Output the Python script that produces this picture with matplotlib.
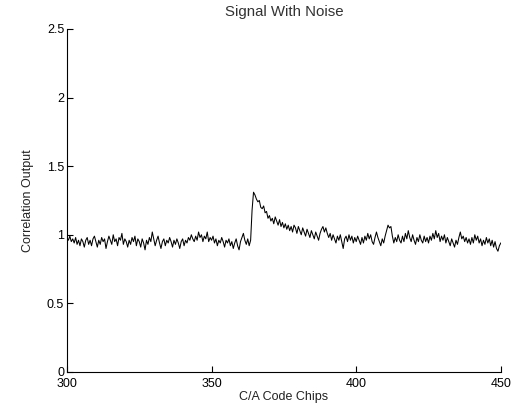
"""
Correlation output of a noisy C/A code signal, redrawn as a MATLAB-style line plot.
"""

import numpy as np
import matplotlib

matplotlib.use("Agg")
import matplotlib.pyplot as plt

# chips run from 300 to 450 in half-chip steps
chip_start = 300.0
chip_step = 0.5

# correlation output, 25 chips per block
corr_300 = [
    0.98, 0.96, 0.99, 0.95, 0.97, 0.94, 0.98, 0.93, 0.96, 0.92,
    0.97, 0.95, 0.91, 0.96, 0.98, 0.93, 0.96, 0.92, 0.97, 0.99,
    0.95, 0.91, 0.96, 0.93, 0.98, 0.95, 0.97, 0.90, 0.95, 0.99,
    0.96, 0.93, 1.00, 0.95, 0.97, 0.92, 0.98, 0.96, 1.01, 0.93,
    0.97, 0.95, 0.91, 0.96, 0.93, 0.98, 0.95, 0.99, 0.92, 0.97,
]
corr_325 = [
    0.95, 0.91, 0.97, 0.94, 0.89, 0.96, 0.93, 0.98, 0.95, 1.02,
    0.97, 0.92, 0.96, 0.99, 0.94, 0.90, 0.95, 0.97, 0.92, 0.96,
    0.94, 0.98, 0.95, 0.91, 0.96, 0.93, 0.97, 0.94, 0.90, 0.95,
    0.97, 0.92, 0.96, 0.94, 0.98, 0.96, 1.00, 0.97, 0.95, 0.99,
    0.96, 1.02, 0.98, 1.00, 0.95, 0.99, 0.97, 1.02, 0.95, 0.98,
]
corr_350 = [
    0.96, 0.99, 0.94, 0.97, 0.92, 0.96, 0.94, 0.98, 0.95, 0.91,
    0.96, 0.94, 0.97, 0.92, 0.95, 0.90, 0.94, 0.97, 0.92, 0.89,
    0.95, 0.98, 1.01, 0.96, 0.93, 0.97, 0.92, 0.96, 1.18, 1.31,
    1.29, 1.26, 1.24, 1.25, 1.20, 1.19, 1.21, 1.16, 1.17, 1.12,
    1.14, 1.10, 1.12, 1.08, 1.13, 1.10, 1.07, 1.11, 1.06, 1.09,
]
corr_375 = [
    1.05, 1.08, 1.04, 1.07, 1.03, 1.06, 1.02, 1.07, 1.05, 1.01,
    1.06, 1.03, 1.00, 1.05, 1.02, 0.99, 1.04, 1.01, 0.98, 1.03,
    1.00, 0.97, 1.02, 0.99, 0.96, 1.01, 1.04, 1.06, 1.02, 1.05,
    1.01, 0.98, 1.01, 0.96, 1.00, 0.97, 0.94, 0.99, 0.96, 1.00,
    0.95, 0.90, 0.97, 0.99, 0.95, 1.00, 0.96, 0.99, 0.94, 0.98,
]
corr_400 = [
    0.95, 0.99, 0.96, 0.93, 0.98, 0.94, 0.99, 0.96, 1.01, 0.97,
    1.00, 0.95, 0.93, 0.98, 1.02, 0.98, 0.95, 0.92, 0.97, 0.94,
    0.99, 1.03, 1.07, 1.05, 1.06, 0.99, 0.94, 0.98, 0.95, 1.00,
    0.96, 0.94, 0.99, 0.95, 1.01, 0.97, 1.03, 0.98, 0.95, 1.00,
    0.96, 0.93, 0.98, 0.95, 1.00, 0.96, 0.94, 0.99, 0.95, 0.98,
]
corr_425 = [
    0.94, 0.99, 0.96, 1.01, 0.97, 1.03, 0.98, 1.01, 0.95, 0.99,
    0.96, 1.00, 0.94, 0.98, 0.95, 0.92, 0.97, 0.94, 0.91, 0.96,
    0.93, 0.98, 1.02, 0.97, 0.99, 0.95, 0.98, 0.94, 0.97, 0.93,
    0.98, 0.94, 1.00, 0.96, 0.99, 0.94, 0.97, 0.92, 0.96, 0.93,
    0.98, 0.94, 0.97, 0.92, 0.96, 0.91, 0.95, 0.90, 0.88, 0.92,
    0.94,
]

x_ticks = [300, 350, 400, 450]
y_ticks = [0, 0.5, 1, 1.5, 2, 2.5]
y_tick_labels = ["0", "0.5", "1", "1.5", "2", "2.5"]

corr = np.array(corr_300 + corr_325 + corr_350 + corr_375 + corr_400 + corr_425)
chips = chip_start + chip_step * np.arange(len(corr))

plt.rcParams["font.family"] = ["Liberation Sans", "DejaVu Sans"]
plt.rcParams["font.size"] = 9

fig = plt.figure(figsize=(5.19, 4.07), dpi=100)
ax = fig.add_axes([0.129, 0.086, 0.836, 0.843])

ax.plot(chips, corr, color="k", linewidth=0.75)

ax.set_xlim(300, 450)
ax.set_ylim(0, 2.5)
ax.set_xticks(x_ticks)
ax.set_yticks(y_ticks)
ax.set_yticklabels(y_tick_labels)

ax.spines["top"].set_visible(False)
ax.spines["right"].set_visible(False)
for side in ["left", "bottom"]:
    ax.spines[side].set_linewidth(0.8)
ax.tick_params(direction="in", length=4, width=0.8, colors="k", pad=2)
ax.tick_params(axis="x", pad=4)

ax.set_title("Signal With Noise", color="#333333", pad=9)
ax.set_xlabel("C/A Code Chips", color="#222222", labelpad=1)
ax.set_ylabel("Correlation Output", color="#222222", labelpad=9)

fig.savefig("out.png", dpi=100)
